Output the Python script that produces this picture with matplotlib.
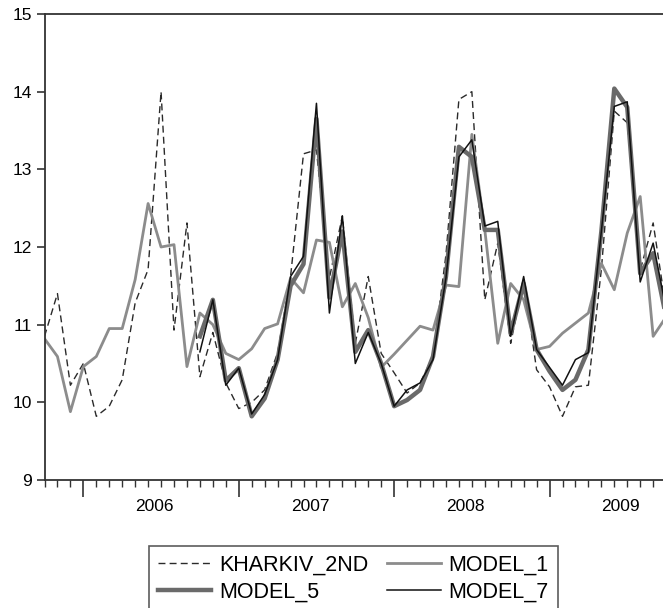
import numpy as np
import matplotlib
matplotlib.use("Agg")
import matplotlib.pyplot as plt

plt.rcParams['font.family'] = ['Liberation Sans', 'DejaVu Sans']

# monthly observations, index 0 = Oct 2005
kharkiv_2nd = [10.85, 11.40, 10.22, 10.50, 9.82, 9.95, 10.29, 11.28, 11.71, 14.00,
               10.93, 12.31, 10.33, 10.90, 10.25, 9.92, 10.00, 10.16, 10.64, 11.62,
               13.20, 13.25, 11.60, 12.40, 10.76, 11.62, 10.63, 10.38, 10.12, 10.25,
               10.59, 11.90, 13.90, 14.00, 11.32, 12.05, 10.76, 11.58, 10.42, 10.20,
               9.82, 10.20, 10.22, 11.71, 13.75, 13.60, 11.70, 12.31, 11.20]
model_1 = [10.82, 10.59, 9.88, 10.46, 10.59, 10.95, 10.95, 11.58, 12.56, 12.00,
           12.03, 10.46, 11.15, 11.00, 10.63, 10.55, 10.69, 10.95, 11.01, 11.60,
           11.41, 12.09, 12.06, 11.23, 11.53, 11.09, 10.45, 10.62, 10.80, 10.98,
           10.93, 11.51, 11.49, 13.45, 12.22, 10.76, 11.53, 11.32, 10.68, 10.72,
           10.89, 11.02, 11.15, 11.79, 11.45, 12.18, 12.65, 10.85, 11.10]
nan = float('nan')
model_5 = [nan] * 12 + [10.85, 11.32, 10.28, 10.44, 9.82, 10.05, 10.55, 11.50,
           11.78, 13.65, 11.35, 12.20, 10.65, 10.93, 10.50, 9.95, 10.03, 10.16,
           10.59, 11.62, 13.29, 13.16, 12.22, 12.22, 10.89, 11.53, 10.68, 10.40,
           10.16, 10.29, 10.68, 12.20, 14.04, 13.80, 11.66, 11.92, 11.10]
model_7 = [nan] * 12 + [10.65, 11.32, 10.22, 10.44, 9.85, 10.10, 10.55, 11.62,
           11.88, 13.85, 11.15, 12.40, 10.50, 10.90, 10.50, 9.95, 10.16, 10.25,
           10.55, 11.60, 13.16, 13.38, 12.27, 12.33, 10.85, 11.62, 10.68, 10.45,
           10.22, 10.55, 10.64, 12.20, 13.81, 13.87, 11.55, 12.05, 11.20]
years = ['2006', '2007', '2008', '2009']
jan_index = [3, 15, 27, 39]

x = np.arange(len(kharkiv_2nd))

W, H = 663, 608
fig = plt.figure(figsize=(W / 100, H / 100), dpi=100)
left = 44.5 / W
bottom = 1 - 480 / H
height = 466 / H
n_span = 50
width = n_span * 12.95 / W
ax = fig.add_axes([left, bottom, width, height])

l_k, = ax.plot(x, kharkiv_2nd, color='#2a2a2a', lw=1.0, ls=(0, (5, 3)), label='KHARKIV_2ND')
l_1, = ax.plot(x, model_1, color='#8c8c8c', lw=2.0, label='MODEL_1')
l_5, = ax.plot(x, model_5, color='#6a6a6a', lw=3.2, label='MODEL_5')
l_7, = ax.plot(x, model_7, color='#111111', lw=1.1, label='MODEL_7')

ax.set_xlim(0, n_span)
ax.set_ylim(9, 15)
ax.set_yticks([9, 10, 11, 12, 13, 14, 15])
for s in ['left', 'bottom', 'top']:
    ax.spines[s].set_color('#333333')
    ax.spines[s].set_linewidth(1.3)
ax.spines['right'].set_visible(False)
ax.tick_params(axis='y', direction='out', length=6, width=1.2, color='#333333',
               labelsize=12.5, pad=3)
ax.set_xticks(jan_index)
ax.set_xticklabels([])
ax.set_xticks(x, minor=True)
ax.tick_params(axis='x', which='major', direction='out', length=12, width=1.2, color='#333333')
ax.tick_params(axis='x', which='minor', direction='out', length=5, width=1.0, color='#333333')

sec = ax.secondary_xaxis('bottom')
sec.set_xticks([j + 5.5 for j in jan_index])
sec.set_xticklabels(years)
sec.tick_params(length=0, labelsize=12.5, pad=14)
sec.spines['bottom'].set_visible(False)

leg = fig.legend([l_k, l_5, l_1, l_7], ['KHARKIV_2ND', 'MODEL_5', 'MODEL_1', 'MODEL_7'],
                 ncol=2, loc='upper left', bbox_to_anchor=(149 / W, 1 - 546 / H),
                 frameon=True, fancybox=False, fontsize=15.5, handlelength=2.5,
                 handletextpad=0.37, columnspacing=0.85, labelspacing=0.28,
                 borderpad=0.4, borderaxespad=0)
leg.get_frame().set_edgecolor('#333333')
leg.get_frame().set_linewidth(1.2)

fig.savefig('out.png', dpi=100)
